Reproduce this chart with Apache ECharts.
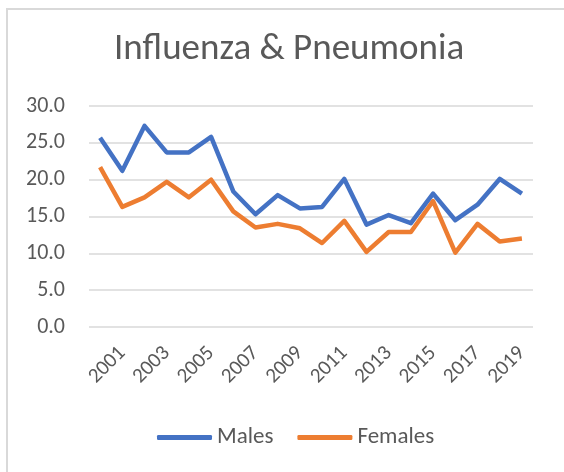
<!DOCTYPE html>
<html>
<head>
<meta charset="utf-8">
<script src="https://cdn.jsdelivr.net/npm/echarts@6/dist/echarts.min.js"></script>
<style>
  html, body { margin: 0; padding: 0; background: #fff; }
  #frame { position: absolute; left: 6px; top: 8px; width: 600px; height: 500px;
           border-left: 2px solid #d9d9d9; border-top: 2px solid #d9d9d9; }
  #chart { position: absolute; left: 0; top: 0; width: 564px; height: 472px; }
</style>
</head>
<body>
<div id="frame"></div>
<div id="chart"></div>
<script>
// years on the category axis (labels show every other one)
const years = ['2000', '2001', '2002', '2003', '2004', '2005', '2006', '2007', '2008', '2009',
               '2010', '2011', '2012', '2013', '2014', '2015', '2016', '2017', '2018', '2019'];
const males = [25.7, 21.2, 27.3, 23.7, 23.7, 25.8, 18.4, 15.3, 17.9, 16.1,
               16.3, 20.1, 13.9, 15.2, 14.1, 18.1, 14.5, 16.6, 20.1, 18.1];
const females = [21.7, 16.3, 17.6, 19.7, 17.6, 20.0, 15.7, 13.5, 14.0, 13.4,
                 11.4, 14.4, 10.2, 12.9, 12.9, 17.1, 10.1, 14.0, 11.6, 12.0];

const font = 'Carlito, Lato, "Noto Sans", sans-serif';
const txt = '#595959';

let myChart = echarts.init(document.getElementById('chart'));
myChart.setOption({
  animation: false,
  title: {
    text: 'Influenza & Pneumonia',
    left: 109,
    top: 26,
    textStyle: { fontFamily: font, fontSize: 37, fontWeight: 'normal', color: txt }
  },
  legend: {
    bottom: 18,
    left: 152,
    itemWidth: 55,
    itemHeight: 5,
    itemGap: 24,
    icon: 'roundRect',
    textStyle: { fontFamily: font, fontSize: 23, color: txt }
  },
  grid: { left: 89, right: 31, top: 106, bottom: 145 },
  xAxis: {
    type: 'category',
    data: years,
    boundaryGap: true,
    axisLine: { show: false },
    axisTick: { show: false },
    axisLabel: {
      rotate: 45,
      margin: 23,
      interval: (index) => index % 2 === 1,
      fontFamily: font, fontSize: 21, color: txt
    }
  },
  yAxis: {
    type: 'value',
    min: 0,
    max: 30,
    interval: 5,
    axisLabel: {
      formatter: (v) => v.toFixed(1),
      margin: 24,
      fontFamily: font, fontSize: 22, color: txt
    },
    splitLine: { lineStyle: { color: '#d9d9d9', width: 1.5 } }
  },
  series: [
    {
      name: 'Males',
      type: 'line',
      data: males,
      symbol: 'none',
      lineStyle: { width: 4.5, color: '#4472c4', join: 'round' },
      itemStyle: { color: '#4472c4' }
    },
    {
      name: 'Females',
      type: 'line',
      data: females,
      symbol: 'none',
      lineStyle: { width: 4.5, color: '#ed7d31', join: 'round' },
      itemStyle: { color: '#ed7d31' }
    }
  ]
});
</script>
</body>
</html>
